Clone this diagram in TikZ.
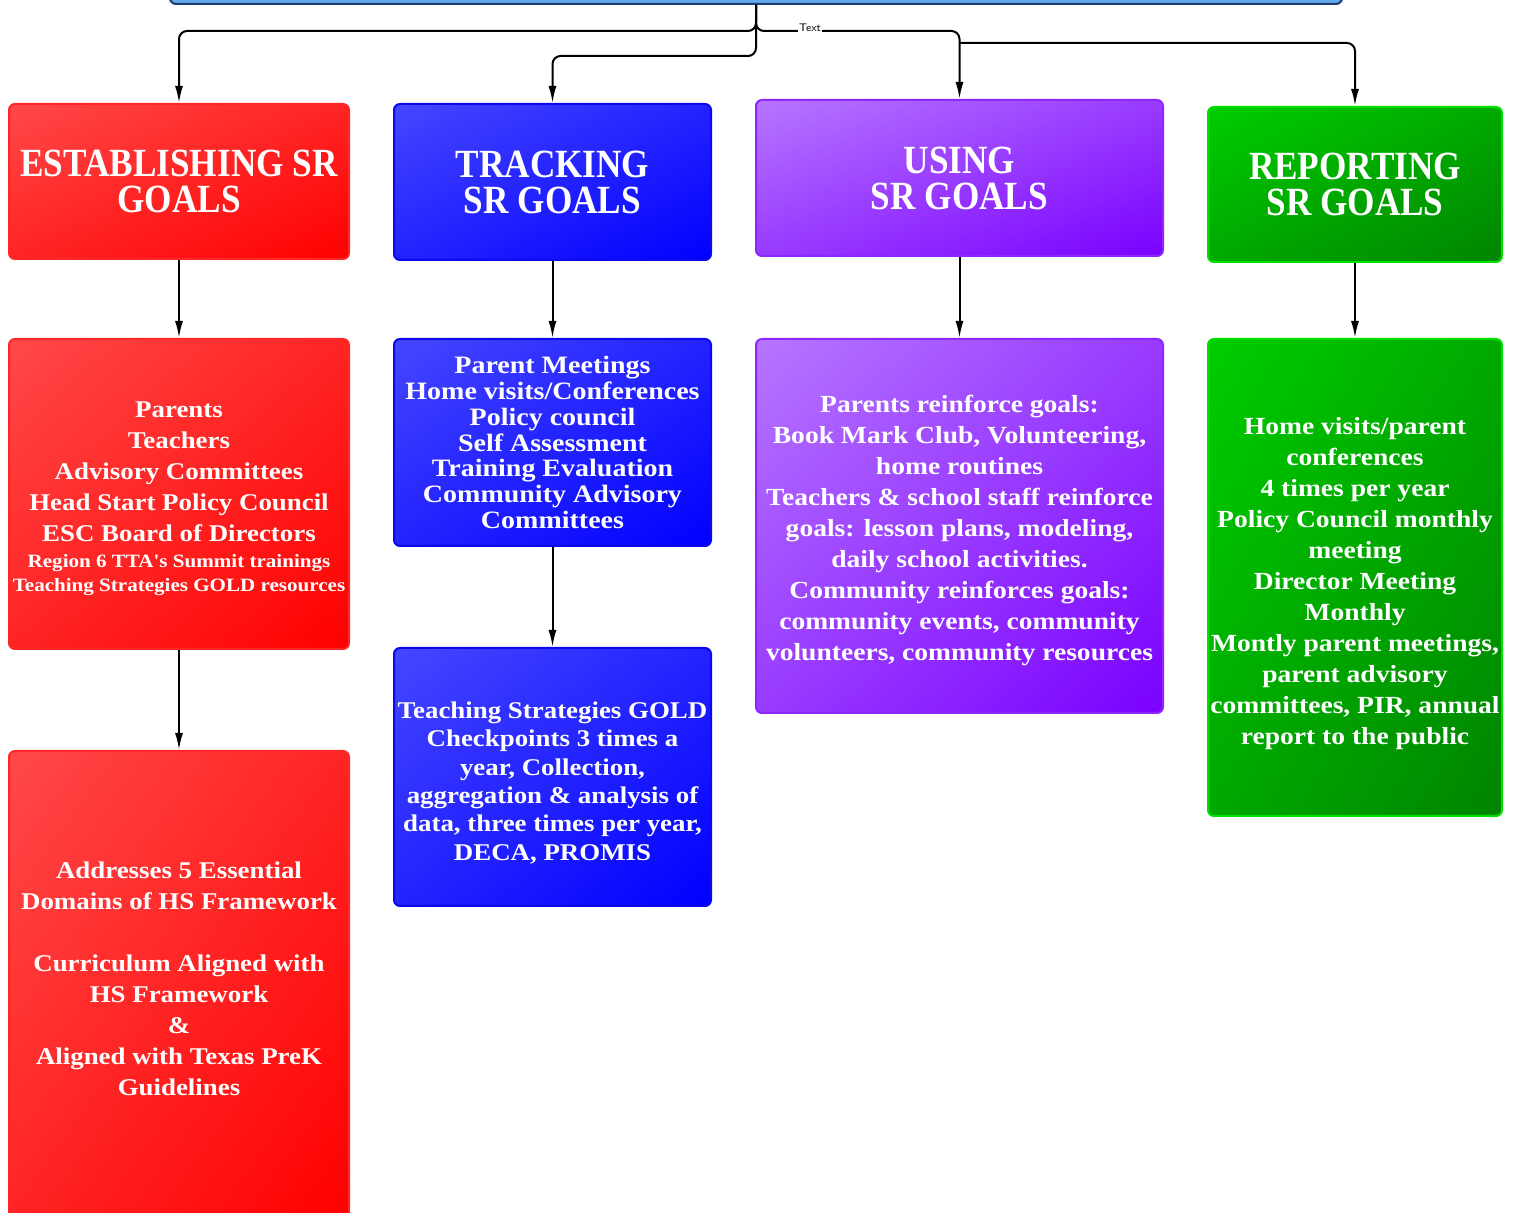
\documentclass[tikz,border=0pt]{standalone}
\usepackage{fontspec}
\newfontfamily\bodyfont[FakeStretch=1.12]{Liberation Serif}
\newfontfamily\headfont[FakeStretch=0.88]{Liberation Serif}
\usetikzlibrary{arrows.meta,shadings}

\definecolor{topblue}{RGB}{96,170,238}
\definecolor{topedge}{RGB}{30,60,110}
\definecolor{redA}{RGB}{255,72,72}
\definecolor{redB}{RGB}{255,0,0}
\definecolor{redE}{RGB}{255,40,40}
\definecolor{blueA}{RGB}{70,70,255}
\definecolor{blueB}{RGB}{0,0,255}
\definecolor{blueE}{RGB}{10,10,235}
\definecolor{purA}{RGB}{182,118,255}
\definecolor{purB}{RGB}{122,0,255}
\definecolor{purE}{RGB}{140,40,255}
\definecolor{grnA}{RGB}{0,205,0}
\definecolor{grnB}{RGB}{0,132,0}
\definecolor{grnE}{RGB}{0,225,0}

\newcommand\smallline[1]{{\fontsize{9.4}{12}\selectfont #1}}

\tikzset{every picture/.style={line width=1pt}}

\begin{document}
\begin{tikzpicture}[x=0.5pt,y=0.5pt,yscale=-1,xscale=1,
  box/.style={rectangle, rounded corners=3pt, line width=1pt, text=white, align=center, inner sep=0pt},
  headbox/.style={box, font=\headfont\bfseries\fontsize{20}{18}\selectfont},
  listbox/.style={box, font=\bodyfont\bfseries\fontsize{12}{15.5}\selectfont},
  grad/.style n args={3}{draw=#3, upper left=#1, lower right=#2, upper right=#1!50!#2, lower left=#1!50!#2},
  redbox/.style={grad={redA}{redB}{redE}},
  bluebox/.style={grad={blueA}{blueB}{blueE}},
  purbox/.style={grad={purA}{purB}{purE}},
  grnbox/.style={grad={grnA}{grnB}{grnE}},
  link/.style={draw=black, line width=1pt, rounded corners=4pt, -{Latex[length=8.5pt,width=4pt]}}
]
\useasboundingbox (0,0) rectangle (1517,1213);

%Top bar
\node[box, draw=topedge, fill=topblue, minimum width=586pt, minimum height=20pt] (plan) at (756,-16) {};

%Column 1: establishing
\node[headbox, redbox, minimum width=170pt, minimum height=77.5pt] (establish) at (179,181.5) {ESTABLISHING SR\\GOALS};
\node[listbox, redbox, minimum width=170pt, minimum height=155pt] (estabwho) at (179,494) {Parents\\Teachers\\Advisory Committees\\Head Start Policy Council\\ESC Board of Directors\\[-2.5pt]\smallline{Region 6 TTA's Summit trainings}\\[-3.5pt]\smallline{Teaching Strategies GOLD resources}\\[-18pt]};
\node[listbox, redbox, minimum width=170pt, minimum height=234pt] (estabdom) at (179,985) {Addresses 5 Essential\\Domains of HS Framework\\[15.5pt]Curriculum Aligned with\\HS Framework\\\&\\Aligned with Texas PreK\\Guidelines\\[-9pt]};

%Column 2: tracking
\node[headbox, bluebox, minimum width=158.5pt, minimum height=78pt] (track) at (552.5,182) {TRACKING\\SR GOALS};
\node[listbox, bluebox, minimum width=158.5pt, minimum height=103.5pt, font=\bodyfont\bfseries\fontsize{12.5}{12.9}\selectfont] (trackwho) at (552.5,442.5) {Parent Meetings\\Home visits/Conferences\\Policy council\\Self Assessment\\Training Evaluation\\Community Advisory\\Committees};
\node[listbox, bluebox, minimum width=158.5pt, minimum height=129pt, font=\bodyfont\bfseries\fontsize{12}{14.2}\selectfont] (trackdata) at (552.5,777) {Teaching Strategies GOLD\\Checkpoints 3 times a\\year, Collection,\\aggregation \& analysis of\\data, three times per year,\\DECA, PROMIS\\[-18.2pt]};

%Column 3: using
\node[headbox, purbox, minimum width=203.5pt, minimum height=78pt] (using) at (959.5,178) {USING\\SR GOALS};
\node[listbox, purbox, minimum width=203.5pt, minimum height=187pt, font=\bodyfont\bfseries\fontsize{12.3}{15.5}\selectfont] (usinghow) at (959.5,526) {Parents reinforce goals:\\Book Mark Club, Volunteering,\\home routines\\Teachers \& school staff reinforce\\goals: lesson plans, modeling,\\daily school activities.\\Community reinforces goals:\\community events, community\\volunteers, community resources\\[-17pt]};

%Column 4: reporting
\node[headbox, grnbox, minimum width=147pt, minimum height=77.5pt] (report) at (1355,184.5) {REPORTING\\SR GOALS};
\node[listbox, grnbox, minimum width=147pt, minimum height=238.5pt, font=\bodyfont\bfseries\fontsize{12.3}{15.5}\selectfont] (reportwhen) at (1355,577.5) {Home visits/parent\\conferences\\4 times per year\\Policy Council monthly\\meeting\\Director Meeting\\Monthly\\Montly parent meetings,\\parent advisory\\committees, PIR, annual\\report to the public\\[-19pt]};

%Connectors from the top bar
\draw[link] (plan.south) -- ++(0,26) -| (establish.north);
\draw[link] (plan.south) -- ++(0,51) -| (track.north);
\draw[link] (plan.south) -- ++(0,26) -| (using.north);
\draw[link] (using.north |- 0,43) -| (report.north);
\node[fill=white, inner sep=0.5pt, font=\sffamily\fontsize{5.5}{6}\selectfont] (textlbl) at (810,28) {Text};

%Connectors down the columns
\draw[link] (establish) -- (estabwho);
\draw[link] (estabwho) -- (estabdom);
\draw[link] (track) -- (trackwho);
\draw[link] (trackwho) -- (trackdata);
\draw[link] (using) -- (usinghow);
\draw[link] (report) -- (reportwhen);

\end{tikzpicture}
\end{document}
